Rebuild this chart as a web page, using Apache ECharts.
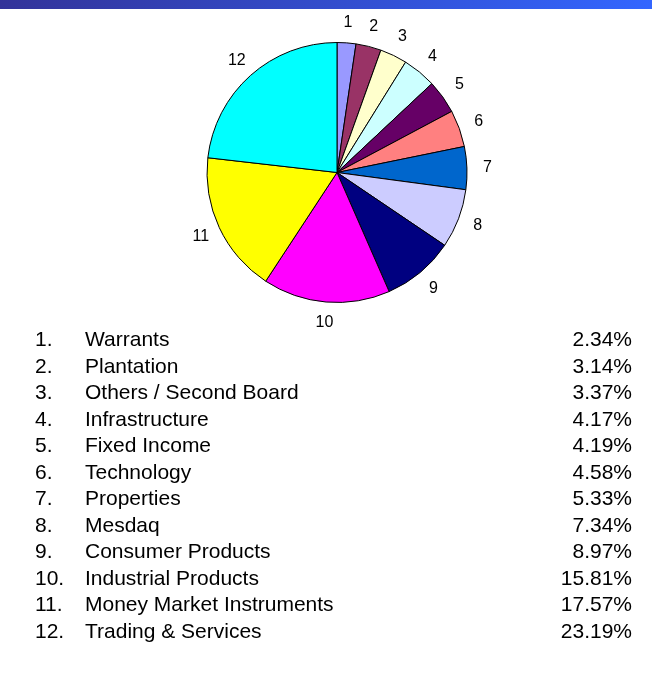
<!DOCTYPE html>
<html>
<head>
<meta charset="utf-8">
<script src="https://cdn.jsdelivr.net/npm/echarts@6/dist/echarts.min.js"></script>
<style>
html,body{margin:0;padding:0;background:#fff;}
#chart{width:652px;height:683px;}
</style>
</head>
<body>
<div id="chart"></div>
<script>
const categories = [
  'Warrants', 'Plantation', 'Others / Second Board', 'Infrastructure',
  'Fixed Income', 'Technology', 'Properties', 'Mesdaq',
  'Consumer Products', 'Industrial Products', 'Money Market Instruments',
  'Trading & Services'
];
const values = [2.34, 3.14, 3.37, 4.17, 4.19, 4.58, 5.33, 7.34, 8.97, 15.81, 17.57, 23.19];
const colors = ['#9999ff', '#993366', '#ffffcc', '#ccffff', '#660066', '#ff8080',
                '#0066cc', '#ccccff', '#000080', '#ff00ff', '#ffff00', '#00ffff'];

const font = '"Liberation Sans", Arial, sans-serif';
const data = categories.map((c, i) => ({ name: c, value: values[i] }));

const chart = echarts.init(document.getElementById('chart'), null, { renderer: 'canvas' });
chart.setOption({
  backgroundColor: '#ffffff',
  animation: false,
  color: colors,
  graphic: [{
    type: 'rect',
    left: 0, top: 0,
    shape: { width: 652, height: 9 },
    style: {
      fill: new echarts.graphic.LinearGradient(0, 0, 1, 0, [
        { offset: 0, color: '#333399' },
        { offset: 1, color: '#3366ff' }
      ])
    },
    silent: true
  }],
  legend: {
    orient: 'vertical',
    left: 30,
    top: 327,
    padding: 0,
    itemGap: 0,
    itemWidth: 0,
    itemHeight: 10,
    icon: 'none',
    selectedMode: false,
    data: categories,
    formatter: function (name) {
      const i = categories.indexOf(name);
      return '{n|' + (i + 1) + '.}{t|' + name + '}{v|' + values[i].toFixed(2) + '%}';
    },
    textStyle: {
      fontFamily: font,
      fontSize: 21,
      lineHeight: 26.5,
      color: '#000',
      rich: {
        n: { width: 50, fontFamily: font, fontSize: 21, color: '#000', lineHeight: 26.5 },
        t: { width: 467, fontFamily: font, fontSize: 21, color: '#000', lineHeight: 26.5 },
        v: { width: 80, align: 'right', fontFamily: font, fontSize: 21, color: '#000', lineHeight: 26.5 }
      }
    }
  },
  series: [{
    type: 'pie',
    center: [337, 172.5],
    radius: [0, 130],
    startAngle: 90,
    clockwise: true,
    data: data,
    label: { show: false },
    labelLine: { show: false },
    itemStyle: { borderColor: '#000', borderWidth: 1 },
    emphasis: { scale: false },
    silent: true
  }, {
    type: 'pie',
    center: [337, 172.5],
    radius: [130, 165],
    startAngle: 90,
    clockwise: true,
    data: data,
    itemStyle: { color: 'rgba(0,0,0,0)', borderWidth: 0 },
    label: {
      show: true,
      position: 'inside',
      color: '#000',
      fontFamily: font,
      fontSize: 16,
      formatter: function (p) { return String(p.dataIndex + 1); }
    },
    labelLine: { show: false },
    emphasis: { disabled: true },
    silent: true
  }]
});
</script>
</body>
</html>
